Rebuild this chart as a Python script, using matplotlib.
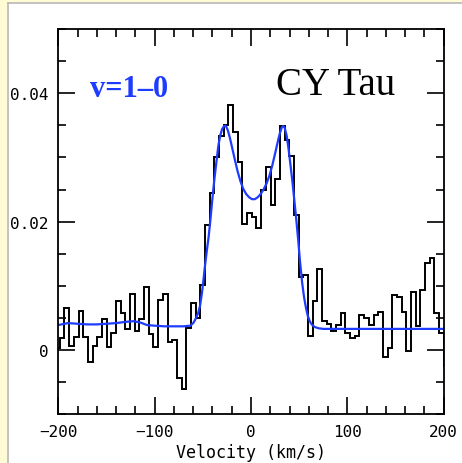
import numpy as np
import matplotlib
matplotlib.use('Agg')
import matplotlib.pyplot as plt
from matplotlib.patches import Rectangle
from matplotlib.lines import Line2D

# spectrum: flux per channel (channel grid starts at V0, width DV)
V0 = -203.3
DV = 4.86
flux = [
    0.0003, 0.0019, 0.0065, 0.0006, 0.0021, 0.0061, 0.0020, -0.0019, 0.0007, 0.0020,
    0.0048, 0.0005, 0.0027, 0.0077, 0.0058, 0.0033, 0.0087, 0.0029, 0.0048, 0.0098,
    0.0025, 0.0005, 0.0078, 0.0087, 0.0012, 0.0015, -0.0043, -0.0060, 0.0034, 0.0074,
    0.0050, 0.0101, 0.0195, 0.0244, 0.0301, 0.0334, 0.0351, 0.0381, 0.0339, 0.0293,
    0.0196, 0.0214, 0.0208, 0.0190, 0.0249, 0.0285, 0.0226, 0.0266, 0.0349, 0.0327,
    0.0303, 0.0210, 0.0114, 0.0117, 0.0022, 0.0076, 0.0127, 0.0046, 0.0040, 0.0030,
    0.0039, 0.0058, 0.0027, 0.0019, 0.0022, 0.0055, 0.0050, 0.0039, 0.0054, 0.0059,
    -0.0011, 0.0003, 0.0085, 0.0082, 0.0059, -0.0001, 0.0091, 0.0037, 0.0094, 0.0135,
    0.0143, 0.0058, 0.0027, -0.0025,
]

# fitted model (blue)
fit_v = [-200, -190, -180, -170, -160, -150, -140, -130, -122, -115, -108, -100, -90, -80,
         -70, -63, -60, -58, -55, -53, -51, -49.5, -48, -46, -44, -42, -40, -38, -36, -34,
         -32, -30, -28, -26, -24, -22, -20, -17, -14, -11, -8, -5, -2, 1, 4, 7, 10, 13, 16,
         19, 22, 25, 28, 30, 32, 33.5, 35, 37, 39, 41, 43, 45, 47, 49, 51, 53, 55, 57, 59,
         61, 63, 66, 70, 75, 200]
fit_f = [0.0039, 0.0042, 0.0041, 0.0040, 0.0040, 0.0041, 0.0042, 0.0044, 0.0045, 0.0043,
         0.0039, 0.0038, 0.0037, 0.0037, 0.0037, 0.0038, 0.0042, 0.0047, 0.0057, 0.0068,
         0.0088, 0.0107, 0.0128, 0.0153, 0.0176, 0.0205, 0.0237, 0.0266, 0.0292, 0.0317,
         0.0334, 0.0344, 0.0349, 0.0349, 0.0342, 0.0331, 0.0318, 0.0298, 0.0279, 0.0263,
         0.0251, 0.0243, 0.0238, 0.0235, 0.0235, 0.0238, 0.0243, 0.0250, 0.0259, 0.0271,
         0.0287, 0.0306, 0.0326, 0.0338, 0.0347, 0.0349, 0.0346, 0.0334, 0.0313, 0.0288,
         0.0262, 0.0233, 0.0203, 0.0171, 0.0136, 0.0106, 0.0083, 0.0066, 0.0053, 0.0045,
         0.0040, 0.0036, 0.0034, 0.0033, 0.0033]

xticks = [-200, -100, 0, 100, 200]
xticklabels = ['\u2212200', '\u2212100', '0', '100', '200']
yticks = [0, 0.02, 0.04]
yticklabels = ['0', '0.02', '0.04']

fig = plt.figure(figsize=(4.62, 4.64), dpi=100)
fig.patch.set_facecolor('white')

# yellowish page frame on the left and top
W, H = 462, 464
fig.patches.append(Rectangle((0, 0), 7.5 / W, 1, transform=fig.transFigure,
                             fc='#fffbd4', ec='none', zorder=0))
fig.patches.append(Rectangle((0, 1 - 3.8 / H), 1, 3.8 / H, transform=fig.transFigure,
                             fc='#fffbd4', ec='none', zorder=0))
fig.lines.append(Line2D([8 / W, 8 / W], [0, 1 - 4 / H], transform=fig.transFigure,
                        color='#b8b8b8', lw=1.2))
fig.lines.append(Line2D([8 / W, 1], [1 - 4 / H, 1 - 4 / H], transform=fig.transFigure,
                        color='#b8b8b8', lw=1.2))

ax = fig.add_axes([58.3 / W, 48.7 / H, 385.4 / W, 385.3 / H])

edges = V0 + DV * np.arange(len(flux) + 1)
ax.stairs(flux, edges, baseline=None, color='black', lw=1.4)
ax.plot(fit_v, fit_f, color='#1e3cff', lw=1.6)

ax.set_xlim(-200, 200)
ax.set_ylim(-0.01, 0.05)

mono = 'DejaVu Sans Mono'
ax.set_xticks(xticks)
ax.set_xticklabels(xticklabels, family=mono, fontsize=11.5)
ax.set_xticks(np.arange(-200, 201, 20), minor=True)
ax.set_yticks(yticks)
ax.set_yticklabels(yticklabels, family=mono, fontsize=11.5)
ax.set_yticks(np.arange(-0.01, 0.0501, 0.005), minor=True)

ax.tick_params(which='both', direction='in', top=True, right=True, width=1.2, colors='black')
ax.tick_params(which='major', length=12, pad=7)
ax.tick_params(which='minor', length=6)
for s in ax.spines.values():
    s.set_linewidth(1.3)

ax.set_xlabel('Velocity (km/s)', family=mono, fontsize=12, labelpad=3)

ax.text(-167, 0.0396, 'v=1\u20130', color='#1e3cff', fontsize=22, fontweight='bold',
        family='Liberation Serif', ha='left', va='baseline')
ax.text(26, 0.0399, 'CY Tau', color='black', fontsize=28,
        family='Liberation Serif', ha='left', va='baseline')

fig.savefig('out.png', dpi=100)
